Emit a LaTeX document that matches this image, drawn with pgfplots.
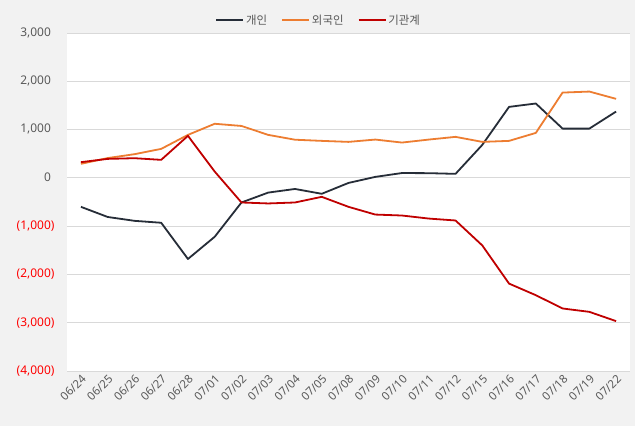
\documentclass[border=0pt]{standalone}
\usepackage{fontspec}
\setmainfont{Noto Sans}
\newfontfamily\kr{Noto Sans CJK KR}
\usepackage{pgfplots}
\pgfplotsset{compat=1.18}
\definecolor{bg}{HTML}{F2F2F2}
\definecolor{gridc}{HTML}{D9D9D9}
\definecolor{txt}{HTML}{595959}
\definecolor{negc}{HTML}{FF0000}
\definecolor{c1}{HTML}{262D38}
\definecolor{c2}{HTML}{ED7D31}
\definecolor{c3}{HTML}{C00000}
\begin{document}
\begin{tikzpicture}[x=1bp,y=1bp]
\fill[bg] (0,0) rectangle (635,426);
\useasboundingbox (0,0) rectangle (635,426);
\begin{axis}[
  at={(67bp,55bp)}, anchor=south west, scale only axis,
  width=563bp, height=338bp,
  xmin=-0.52, xmax=20.52, ymin=-4000, ymax=3000,
  axis background/.style={fill=white},
  axis line style={draw=none},
  major tick length=0pt,
  ymajorgrids, grid style={gridc, line width=0.8bp},
  ytick={-4000,-3000,-2000,-1000,0,1000,2000,3000},
  yticklabels={{\color{negc}(4,000)},{\color{negc}(3,000)},{\color{negc}(2,000)},{\color{negc}(1,000)},{0\phantom{)}},{1,000\phantom{)}},{2,000\phantom{)}},{3,000\phantom{)}}},
  y tick label style={font=\fontsize{12}{14}\selectfont, text=txt, xshift=-9bp},
  xtick={0,...,20},
  xticklabels={06/24,06/25,06/26,06/27,06/28,07/01,07/02,07/03,07/04,07/05,07/08,07/09,07/10,07/11,07/12,07/15,07/16,07/17,07/18,07/19,07/22},
  x tick label style={font=\fontsize{11.5}{13}\selectfont, text=txt, rotate=45, anchor=north east, inner sep=2bp},
  legend columns=3,
  legend style={at={(0.447,1.038)}, anchor=center, draw=none, fill=none, font=\fontsize{11.5}{13}\selectfont\kr, text=txt,
    /tikz/every even column/.append style={column sep=12bp}, inner sep=0pt},
  legend image code/.code={\draw[#1] (0bp,0bp) -- (27bp,0bp);},
  every axis plot/.append style={line width=1.8bp, line join=round},
]
\addplot[c1] coordinates {(0,-600)(1,-810)(2,-890)(3,-930)(4,-1680)(5,-1220)(6,-510)(7,-305)(8,-230)(9,-330)(10,-105)(11,20)(12,100)(13,97)(14,83)(15,683)(16,1470)(17,1540)(18,1020)(19,1020)(20,1373)};
\addlegendentry{개인}
\addplot[c2] coordinates {(0,290)(1,410)(2,490)(3,600)(4,890)(5,1120)(6,1075)(7,890)(8,790)(9,766)(10,745)(11,793)(12,731)(13,793)(14,849)(15,745)(16,766)(17,931)(18,1766)(19,1787)(20,1636)};
\addlegendentry{외국인}
\addplot[c3] coordinates {(0,325)(1,393)(2,407)(3,373)(4,870)(5,130)(6,-510)(7,-530)(8,-510)(9,-393)(10,-600)(11,-760)(12,-780)(13,-843)(14,-883)(15,-1400)(16,-2190)(17,-2430)(18,-2705)(19,-2775)(20,-2967)};
\addlegendentry{기관계}
\end{axis}
\end{tikzpicture}
\end{document}
